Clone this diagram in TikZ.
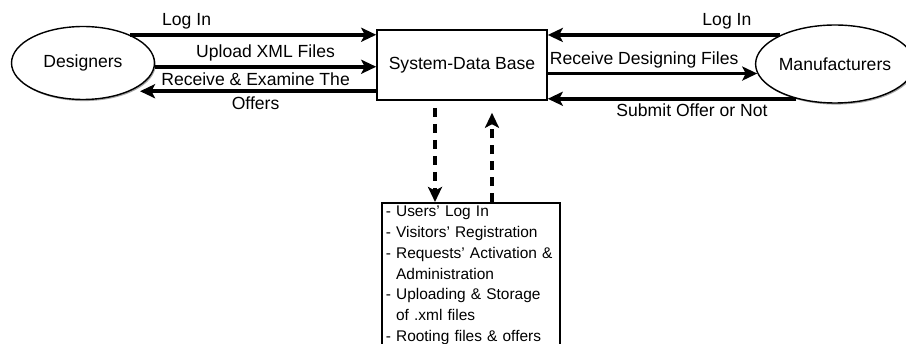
\documentclass[tikz,border=0pt]{standalone}
\usepackage{fontspec}
\setmainfont{Liberation Sans}
\usetikzlibrary{arrows.meta,shapes.geometric,shadows}

\begin{document}
\begin{tikzpicture}
  [
    x=0.02cm, y=-0.02cm,
    actor/.style={ellipse, draw=black, line width=0.8pt, fill=white,
    minimum width=2.86cm, minimum height=1.46cm, inner sep=0pt,
    font=\fontsize{10}{12}\selectfont,
    drop shadow={shadow xshift=0.7pt, shadow yshift=-0.9pt, opacity=0.7}},
    store/.style={draw=black, line width=0.9pt, minimum width=3.4cm,
    minimum height=1.4cm, font=\fontsize{10}{12}\selectfont},
    tasks/.style={draw=black, line width=0.9pt, align=left, text width=3.4cm,
    inner xsep=0.08cm, inner ysep=2pt, font=\fontsize{8.8}{11.8}\selectfont},
    flow/.style={draw=black, line width=2.2pt,
    -{Stealth[length=0.3cm, width=0.28cm, inset=0.07cm]}},
    dflow/.style={flow, dash pattern=on 0.18cm off 0.14cm},
    lbl/.style={inner sep=2pt, font=\fontsize{10}{12}\selectfont}
  ]

  \useasboundingbox (0,0) rectangle (906,344);
  \clip (0,0) rectangle (906,344);

  \node (nDesigners) at (83,63) [actor] {Designers};
  \node (nSystem) at (462,65) [store] {System-Data Base};
  \node (nMakers) at (835,64) [actor, minimum width=2.68cm, minimum height=1.56cm] {Manufacturers};
  \node (nTasks) at (381,202) [tasks, anchor=north west] {- Users’ Log In\\
    - Visitors’ Registration\\
    - Requests’ Activation \&\\
    \phantom{- }Administration\\
    - Uploading \& Storage\\
    \phantom{- }of .xml files\\
    - Rooting files \& offers};

  \draw [flow] (nDesigners.31) -- (nDesigners.31 -| nSystem.west)
    node [lbl, above, pos=0.23] {Log In};
  \draw [flow] (nDesigners.-3) -- (nDesigners.-3 -| nSystem.west)
    node [lbl, above, pos=0.5] {Upload XML Files};
  \draw [flow, shorten >=0.2cm] (nDesigners.-31 -| nSystem.west) -- (nDesigners.-31)
    node [lbl, above, pos=0.49] {Receive \& Examine The}
    node [lbl, below, pos=0.49] {Offers};

  \draw [flow] (nMakers.152) -- (nMakers.152 -| nSystem.east)
    node [lbl, above, pos=0.23] {Log In};
  \draw [flow] (nMakers.187 -| nSystem.east) -- (nMakers.187)
    node [lbl, above, pos=0.46] {Receive Designing Files};
  \draw [flow] (nMakers.222.5) -- (nMakers.222.5 -| nSystem.east)
    node [lbl, below, pos=0.42] {Submit Offer or Not};

  \coordinate (cDown) at ([xshift=-0.54cm]nSystem.south);
  \coordinate (cUp) at ([xshift=0.6cm]nSystem.south);
  \draw [dflow, shorten <=0.14cm] (cDown) -- (cDown |- nTasks.north);
  \draw [dflow, shorten >=0.24cm] (cUp |- nTasks.north) -- (cUp);
\end{tikzpicture}
\end{document}
